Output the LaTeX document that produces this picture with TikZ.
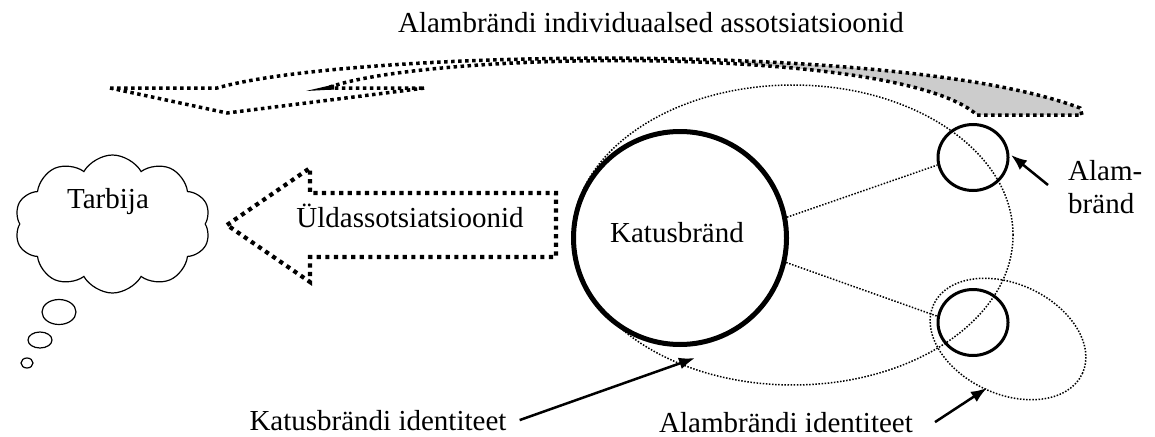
\documentclass[tikz,border=0pt]{standalone}
\usepackage{fontspec}
\setmainfont{Liberation Serif}
\usetikzlibrary{arrows.meta,shapes.symbols,shapes.geometric}
\definecolor{bandgray}{RGB}{204,204,204}
\begin{document}
\begin{tikzpicture}[x=1pt,y=-1pt,
  lbl/.style={font=\fontsize{29}{33}\selectfont, inner sep=0pt},
  blockdash/.style={line width=4.2pt, dash pattern=on 4.2pt off 4.4pt},
  banddash/.style={line width=3.5pt, dash pattern=on 3.5pt off 3.5pt},
  finedot/.style={line width=1.5pt, dash pattern=on 1.5pt off 1.6pt},
  pointer/.style={line width=2.5pt, -{Latex[length=16pt,width=12pt]}},
  puff/.style={draw, ellipse, line width=1.2pt, inner sep=0pt},
]
\useasboundingbox (0,0) rectangle (1155,436);

% heading
\node[lbl, anchor=base] (title) at (651,33) {Alambrändi individuaalsed assotsiatsioonid};

% curved ribbon arrow pointing left, shaded at its right end
\def\ribbon{(110,88) -- (217,88) .. controls (350,50) and (900,40) .. (1080,108)
  -- (1082,115) -- (977,115) .. controls (900,45) and (430,50) .. (327,88)
  -- (425,88) -- (227,113) -- cycle}
\begin{scope}
  \clip (740,0) rectangle (1155,200);
  \fill[bandgray] \ribbon;
\end{scope}
\draw[banddash] \ribbon;
\fill (306,91) -- (334,84.5) -- (334,89.5) -- cycle;

% consumer thought cloud
\node[cloud, draw, line width=1.2pt, cloud puffs=10, cloud puff arc=120, cloud ignores aspect,
      minimum width=196pt, minimum height=138pt, inner sep=0pt]
      (tarbija) at (112.5,224) {};
\node[lbl, anchor=base] (tarbijatxt) at (108,208) {Tarbija};
\node[puff, minimum width=34pt, minimum height=25pt] (puffa) at (59,312) {};
\node[puff, minimum width=24pt, minimum height=16pt] (puffb) at (40,340) {};
\node[puff, minimum width=12pt, minimum height=10pt] (puffc) at (27,363) {};

% general associations block arrow
\draw[blockdash] (227,225) -- (310,168) -- (310,193) -- (556,193) -- (556,257)
  -- (310,257) -- (310,282) -- cycle;
\node[lbl, anchor=base] (uld) at (410,227) {Üldassotsiatsioonid};

% umbrella brand identity and the umbrella brand
\node[draw, ellipse, finedot, minimum width=440pt, minimum height=300pt, inner sep=0pt]
      (katusid) at (793,235) {};
\node[draw, circle, line width=5pt, minimum size=213pt, inner sep=0pt] (katus) at (680,238) {};
\node[lbl, anchor=base] (katustxt) at (677,242) {Katusbränd};

% sub-brands
\node[draw, ellipse, line width=3pt, minimum width=70pt, minimum height=66pt, inner sep=0pt]
      (alamyl) at (973,157.5) {};
\node[draw, ellipse, line width=3pt, minimum width=70pt, minimum height=66pt, inner sep=0pt]
      (alamal) at (973,322.5) {};
\node[draw, ellipse, finedot, minimum width=164pt, minimum height=110pt, inner sep=0pt,
      rotate=-25] (alamid) at (1008,339) {};

\draw[finedot] (katus.11) -- (alamyl.192);
\draw[finedot] (katus.-13) -- (alamal.170);

% labels with pointers
\node[lbl, anchor=base] (katusidtxt) at (378,430) {Katusbrändi identiteet};
\node[lbl, anchor=base] (alamidtxt) at (786,432) {Alambrändi identiteet};
\node[lbl, anchor=north west, align=left] (alamtxt) at (1068,160) {Alam-\\bränd};

\coordinate (katustip) at (695,358);
\coordinate (alamidtip) at (987,388);
\coordinate (alamtip) at (1011,155);
\coordinate (alamstart) at (1048,185);

\draw[pointer] ([xshift=13pt]katusidtxt.east) -- (katustip);
\draw[pointer] ([xshift=22pt]alamidtxt.east) -- (alamidtip);
\draw[pointer] (alamstart) -- (alamtip);
\end{tikzpicture}
\end{document}
